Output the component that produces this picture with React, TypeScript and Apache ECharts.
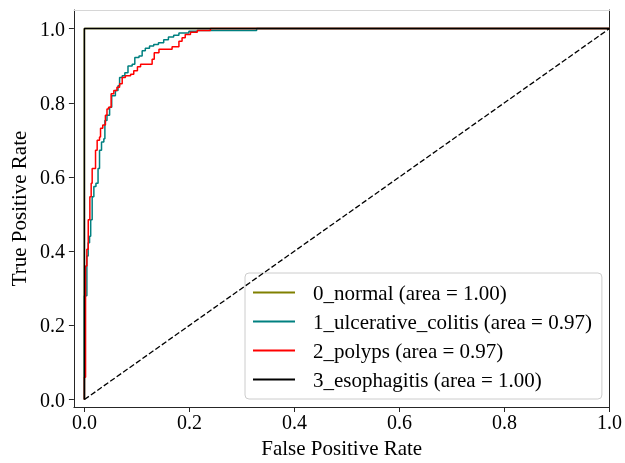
import React, { useEffect, useRef } from "react";
import * as echarts from "echarts";

const classNames = ["0_normal", "1_ulcerative_colitis", "2_polyps", "3_esophagitis"];
const aucValues = [1.0, 0.97, 0.97, 1.0];
const classColors = ["#808000", "#008080", "#ff0000", "#000000"];

// ROC corner points: vertical segment at fpr[i] reaching tpr[i]
const normalFpr = [0, 0, 1];
const normalTpr = [0, 1, 1];

const colitisFpr = [0, 0, 0.0047, 0.0072, 0.0098, 0.012, 0.0148, 0.018, 0.022, 0.026, 0.0288, 0.0326, 0.037, 0.039, 0.043, 0.048, 0.052, 0.059, 0.064, 0.067, 0.072, 0.077, 0.083, 0.091, 0.096, 0.104, 0.110, 0.116, 0.124, 0.132, 0.141, 0.151, 0.160, 0.170, 0.180, 0.199, 0.215, 0.328, 1];
const colitisTpr = [0, 0.28, 0.387, 0.423, 0.44, 0.485, 0.547, 0.574, 0.583, 0.623, 0.672, 0.694, 0.703, 0.752, 0.766, 0.788, 0.819, 0.833, 0.846, 0.868, 0.873, 0.881, 0.899, 0.904, 0.922, 0.926, 0.940, 0.947, 0.953, 0.957, 0.962, 0.970, 0.977, 0.982, 0.988, 0.993, 0.995, 1.0, 1.0];

const polypsFpr = [0, 0, 0.0022, 0.0047, 0.0073, 0.0104, 0.0129, 0.0148, 0.0212, 0.0243, 0.0288, 0.0307, 0.035, 0.040, 0.043, 0.046, 0.0509, 0.056, 0.062, 0.067, 0.072, 0.078, 0.088, 0.094, 0.101, 0.107, 0.129, 0.133, 0.142, 0.167, 0.180, 0.186, 0.192, 0.202, 0.215, 0.240, 1];
const polypsTpr = [0, 0.06, 0.36, 0.405, 0.485, 0.547, 0.583, 0.623, 0.672, 0.699, 0.708, 0.731, 0.740, 0.766, 0.783, 0.788, 0.824, 0.833, 0.842, 0.851, 0.868, 0.873, 0.877, 0.886, 0.897, 0.904, 0.917, 0.935, 0.944, 0.951, 0.966, 0.975, 0.984, 0.990, 0.995, 1.0, 1.0];

const esophagitisFpr = [0, 0, 1];
const esophagitisTpr = [0, 1, 1];

const chanceFpr = [0, 1];
const chanceTpr = [0, 1];

const tickValues = [0, 0.2, 0.4, 0.6, 0.8, 1.0];

const FONT = "'Liberation Serif', 'Times New Roman', serif";

function staircase(fpr: number[], tpr: number[]): number[][] {
  const pts: number[][] = [[fpr[0], tpr[0]]];
  for (let i = 1; i < fpr.length; i++) {
    pts.push([fpr[i], tpr[i - 1]]);
    pts.push([fpr[i], tpr[i]]);
  }
  return pts;
}

const curves = [
  [normalFpr, normalTpr],
  [colitisFpr, colitisTpr],
  [polypsFpr, polypsTpr],
  [esophagitisFpr, esophagitisTpr],
];

export default function App() {
  const ref = useRef<HTMLDivElement>(null);
  useEffect(() => {
    if (!ref.current) return;
    const chart = echarts.init(ref.current, null, { renderer: "svg" });
    const names = classNames.map((n, i) => `${n} (area = ${aucValues[i].toFixed(2)})`);
    const spine = "#262626";
    const series: any[] = curves.map((c, i) => ({
      name: names[i],
      type: "line",
      data: staircase(c[0], c[1]),
      showSymbol: false,
      symbol: "none",
      color: classColors[i],
      itemStyle: { color: classColors[i] },
      lineStyle: { color: classColors[i], width: 1.5 },
      z: 2 + i,
      silent: true,
    }));
    series.push({
      name: "chance",
      type: "line",
      data: chanceFpr.map((x, i) => [x, chanceTpr[i]]),
      symbol: "none",
      lineStyle: { color: "#000", width: 1.3, type: [5.5, 2.4] },
      z: 7,
      silent: true,
    });
    chart.setOption({
      animation: false,
      grid: { left: 73, right: 14, top: 10, bottom: 52, show: false },
      legend: {
        data: names.map((n) => ({ name: n, icon: "rect" })),
        orient: "vertical",
        left: 245,
        top: 273,
        itemWidth: 42,
        itemHeight: 2,
        itemGap: 8,
        padding: [9, 10, 9, 8],
        backgroundColor: "rgba(255,255,255,0.8)",
        borderColor: "#cccccc",
        borderWidth: 1,
        borderRadius: 4,
        textStyle: { fontFamily: FONT, fontSize: 21, color: "#000", lineHeight: 21, padding: [0, 0, 0, 13] },
      },
      xAxis: [
        {
          type: "value",
          min: -0.02,
          max: 1.0,
          position: "bottom",
          name: "False Positive Rate",
          nameLocation: "middle",
          nameGap: 30,
          nameTextStyle: { fontFamily: FONT, fontSize: 21, color: "#000" },
          axisLine: { show: true, onZero: false, lineStyle: { color: spine, width: 1 } },
          axisTick: { show: true, length: 5, customValues: tickValues, lineStyle: { color: spine } },
          axisLabel: { customValues: tickValues, margin: 5, fontFamily: FONT, fontSize: 20, color: "#000", formatter: (v: number) => v.toFixed(1) },
          splitLine: { show: false },
        },
        {
          type: "value",
          min: -0.02,
          max: 1.0,
          position: "top",
          axisLine: { show: true, onZero: false, lineStyle: { color: "#d6d6d6", width: 1 } },
          axisTick: { show: false },
          axisLabel: { show: false },
          splitLine: { show: false },
        },
      ],
      yAxis: [
        {
          type: "value",
          min: -0.02,
          max: 1.05,
          position: "left",
          name: "True Positive Rate",
          nameLocation: "middle",
          nameGap: 40,
          nameTextStyle: { fontFamily: FONT, fontSize: 21, color: "#000" },
          axisLine: { show: true, onZero: false, lineStyle: { color: spine, width: 1 } },
          axisTick: { show: true, length: 5, customValues: tickValues, lineStyle: { color: spine } },
          axisLabel: { customValues: tickValues, margin: 9, fontFamily: FONT, fontSize: 20, color: "#000", formatter: (v: number) => v.toFixed(1) },
          splitLine: { show: false },
        },
        {
          type: "value",
          min: -0.02,
          max: 1.05,
          position: "right",
          axisLine: { show: true, onZero: false, lineStyle: { color: spine, width: 1 } },
          axisTick: { show: false },
          axisLabel: { show: false },
          splitLine: { show: false },
        },
      ],
      series,
    });
    return () => chart.dispose();
  }, []);
  return <div ref={ref} style={{ position: "fixed", left: 0, top: 0, width: 625, height: 463 }} />;
}
